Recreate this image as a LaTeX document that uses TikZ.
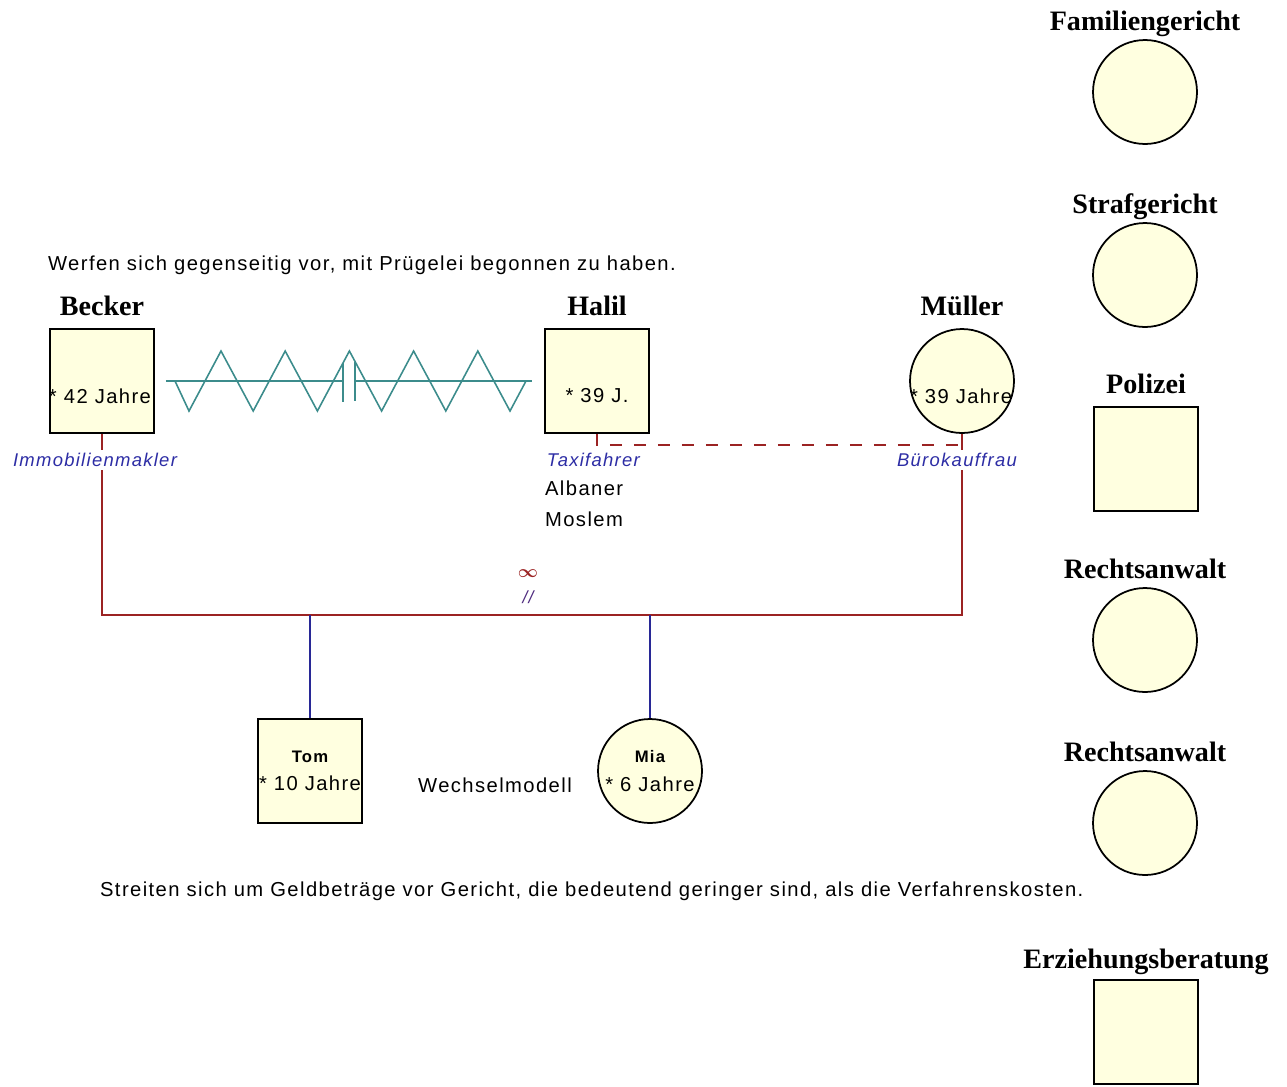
\documentclass[tikz,border=0pt]{standalone}
\usepackage{amsmath}
\usepackage{fontspec}
\setmainfont{Liberation Serif}
\setsansfont{Liberation Sans}[LetterSpace=7]
\usetikzlibrary{positioning}

\definecolor{nodefill}{RGB}{255,255,224}
\definecolor{bondred}{RGB}{155,35,35}
\definecolor{childblue}{RGB}{40,40,150}
\definecolor{jobblue}{RGB}{45,45,165}
\definecolor{fightteal}{RGB}{60,140,140}

\tikzset{
  male/.style={draw, line width=1pt, fill=nodefill, minimum size=2.08cm, inner sep=0pt},
  female/.style={male, circle},
  heading/.style={font=\fontsize{16}{18}\selectfont\bfseries, inner sep=1pt, text height=11pt, text depth=3pt},
  info/.style={font=\sffamily\fontsize{11.5}{14}\selectfont, inner sep=1pt},
  job/.style={font=\sffamily\itshape\fontsize{10.5}{13}\selectfont, text=jobblue, fill=white, inner sep=2pt},
  child/.style={font=\sffamily\fontsize{11.5}{15}\selectfont, align=center},
  marriage/.style={draw=bondred, line width=1pt},
  separation/.style={draw=bondred, line width=1pt, dash pattern=on 0.24cm off 0.24cm},
  offspring/.style={draw=childblue, line width=1pt},
  conflict/.style={draw=fightteal, line width=0.9pt}
}

\begin{document}
\begin{tikzpicture}[x=0.02cm, y=-0.02cm]
      \useasboundingbox (0,0) rectangle (1287,1086);
      % family
      \node[male]   (becker)  at ( 102, 381) {};
      \node[male]   (halil)   at ( 597, 381) {};
      \node[female] (mueller) at ( 962, 381) {};
      \node[heading, above=0.1cm of becker]  (beckerT)  {Becker};
      \node[heading, above=0.1cm of halil]   (halilT)   {Halil};
      \node[heading, above=0.1cm of mueller] (muellerT) {Müller};
      \node[info] (beckerAge)  at ( 100, 396) {* 42 Jahre};
      \node[info] (halilAge)   at ( 597, 396) {* 39 J.};
      \node[info] (muellerAge) at ( 961, 396) {* 39 Jahre};
      \node[male, child]   (tom) at (310, 771) {{\bfseries\fontsize{9.5}{12}\selectfont Tom}\\[1pt]* 10 Jahre};
      \node[female, child] (mia) at (650, 771) {{\bfseries\fontsize{9.5}{12}\selectfont Mia}\\[1pt]* 6 Jahre};
      % institutions
      \node[female] (famcourt)  at (1145,  92) {};
      \node[female] (crimcourt) at (1145, 275) {};
      \node[male]   (police)    at (1146, 459) {};
      \node[female] (lawyerA)   at (1145, 640) {};
      \node[female] (lawyerB)   at (1145, 823) {};
      \node[male]   (counsel)   at (1146,1032) {};
      \node[heading, above=0.03cm of famcourt]  (famcourtT)  {Familiengericht};
      \node[heading, above=0.03cm of crimcourt] (crimcourtT) {Strafgericht};
      \node[heading, above=0.1cm of police]     (policeT)    {Polizei};
      \node[heading, above=0.03cm of lawyerA]   (lawyerAT)   {Rechtsanwalt};
      \node[heading, above=0.03cm of lawyerB]   (lawyerBT)   {Rechtsanwalt};
      \node[heading, above=0.07cm of counsel]   (counselT)   {Erziehungsberatung};
      % relations
      \coordinate (bond) at (528, 615);
      \coordinate (sepline) at (780, 445);
      \draw[marriage] (becker) -- (becker |- bond) -- (mueller |- bond) -- (mueller);
      \draw[separation] (halil) -- (halil |- sepline) -- (mueller |- sepline);
      \draw[offspring] (tom |- bond) -- (tom);
      \draw[offspring] (mia |- bond) -- (mia);
      \node[text=bondred, inner sep=0pt] (wedmark) at (528, 574) {$\boldsymbol{\infty}$};
      \node[text=jobblue!70!bondred, font=\sffamily\itshape\fontsize{10}{12}\selectfont, inner sep=0pt] (divmark) at (528, 597) {//};
      % fight between Becker and Halil
      \coordinate (cutL) at (343, 381);
      \coordinate (cutR) at (355, 381);
      \draw[conflict, shorten <=0.22cm] (becker) -- (cutL);
      \draw[conflict, shorten >=0.24cm] (cutR) -- (halil);
      \draw[conflict] ([yshift=0.36cm]cutL) -- ([yshift=-0.42cm]cutL);
      \draw[conflict] ([yshift=0.38cm]cutR) -- ([yshift=-0.40cm]cutR);
      \draw[conflict] (175, 381) \foreach \i in {0,...,4} { -- ({189+64.2*\i}, 411) -- ({221+64.2*\i}, 351) } -- (510, 411) -- (526, 381);
      % labels
      \node[job] (beckerJob)  at ( 95, 460) {Immobilienmakler};
      \node[job, anchor=west] (halilJob) at (543, 460) {Taxifahrer};
      \node[job] (muellerJob) at (957, 460) {Bürokauffrau};
      \node[info, anchor=west] (halilOrigin) at (543, 488) {Albaner};
      \node[info, anchor=west] (halilFaith)  at (543, 519) {Moslem};
      \node[info] (residence) at (495, 785) {Wechselmodell};
      \node[info, anchor=west] (fightNote) at (46, 265) {Werfen sich gegenseitig vor, mit Prügelei begonnen zu haben.};
      \node[info, anchor=west] (courtNote) at (98, 891) {Streiten sich um Geldbeträge vor Gericht, die bedeutend geringer sind, als die Verfahrenskosten.};
\end{tikzpicture}
\end{document}
